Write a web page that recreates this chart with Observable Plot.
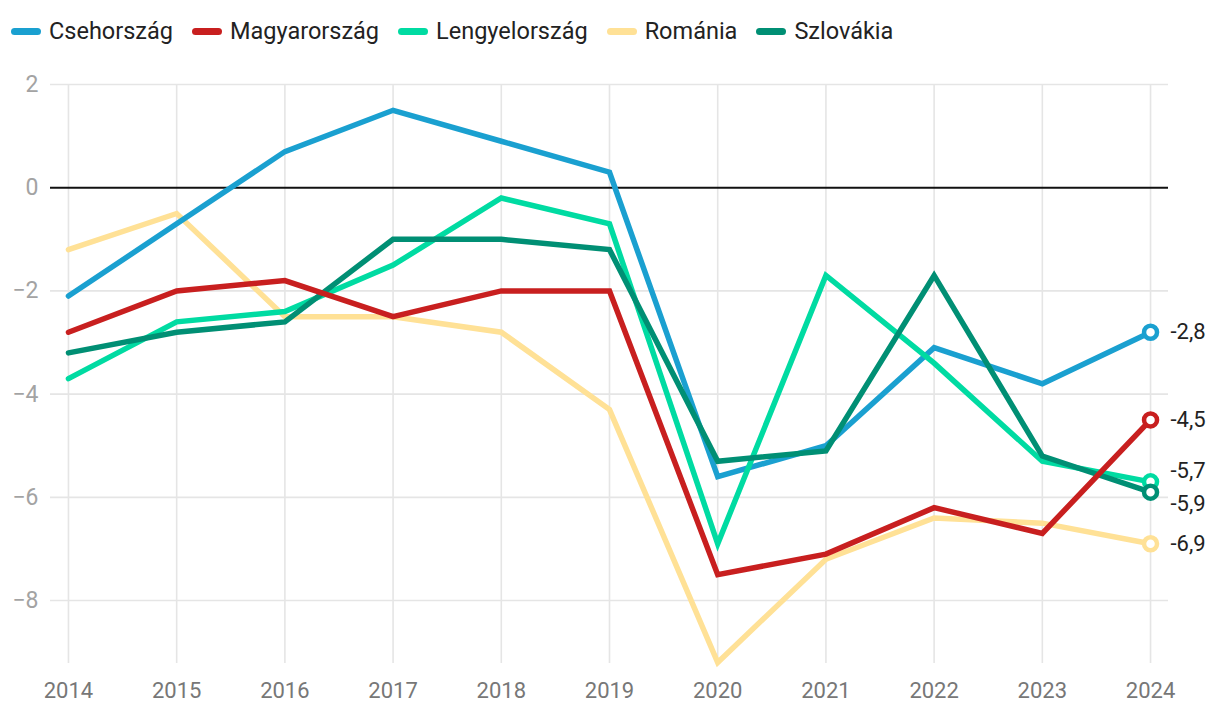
<!DOCTYPE html>
<html><head><meta charset="utf-8">
<script src="https://cdn.jsdelivr.net/npm/d3@7"></script>
<script src="https://cdn.jsdelivr.net/npm/@observablehq/plot@0.6"></script>
<style>
body{margin:0;background:#fff;font-family:Roboto,sans-serif;}
#legend{height:60px;display:flex;align-items:center;padding-left:11px;font-size:23.5px;color:#222;box-sizing:border-box;padding-top:2px;}
.item{display:flex;align-items:center;margin-right:19px;}
.sw{width:30px;height:7px;border-radius:4px;margin-right:8px;}
#chart svg{display:block;}
</style></head><body>
<div id="legend"></div><div id="chart"></div>
<script>
const years = [2014,2015,2016,2017,2018,2019,2020,2021,2022,2023,2024];
const countries = ["Csehország","Magyarország","Lengyelország","Románia","Szlovákia"];
const colors = ["#1aa0d0","#c81f1f","#00dba2","#ffe196","#008f74"];
const csehorszag    = [-2.1,-0.7, 0.7, 1.5, 0.9, 0.3,-5.6,-5.0,-3.1,-3.8,-2.8];
const magyarorszag  = [-2.8,-2.0,-1.8,-2.5,-2.0,-2.0,-7.5,-7.1,-6.2,-6.7,-4.5];
const lengyelorszag = [-3.7,-2.6,-2.4,-1.5,-0.2,-0.7,-6.9,-1.7,-3.4,-5.3,-5.7];
const romania       = [-1.2,-0.5,-2.5,-2.5,-2.8,-4.3,-9.2,-7.2,-6.4,-6.5,-6.9];
const szlovakia     = [-3.2,-2.8,-2.6,-1.0,-1.0,-1.2,-5.3,-5.1,-1.7,-5.2,-5.9];
const yTicks = [-8,-6,-4,-2,0,2];

const seriesValues = {"Csehország":csehorszag,"Magyarország":magyarorszag,"Lengyelország":lengyelorszag,"Románia":romania,"Szlovákia":szlovakia};
const drawOrder = ["Románia","Csehország","Lengyelország","Szlovákia","Magyarország"];
const data = drawOrder.flatMap(c => years.map((y,i) => ({country:c, year:y, value:seriesValues[c][i]})));

// end labels with simple dodge (data units)
const last = countries.map(c => ({country:c, year:years[years.length-1], value:seriesValues[c][years.length-1]}));
const sorted = [...last].sort((a,b)=>b.value-a.value);
const gap = 0.64;
sorted.forEach(d => d.ly = d.value);
for (let iter=0; iter<50; iter++){
  for (let i=0;i<sorted.length-1;i++){
    const a=sorted[i], b=sorted[i+1];
    const overlap = gap - (a.ly - b.ly);
    if (overlap>0){ a.ly += overlap/2; b.ly -= overlap/2; }
  }
}
const fmt = v => String(v.toFixed(1)).replace(".", ",");
const yFmt = d => d < 0 ? "\u2212" + Math.abs(d) : String(d);

// legend
const leg = document.getElementById("legend");
countries.forEach((c,i)=>{
  const it=document.createElement("div"); it.className="item";
  const sw=document.createElement("div"); sw.className="sw"; sw.style.background=colors[i];
  const t=document.createElement("span"); t.textContent=c;
  it.appendChild(sw); it.appendChild(t); leg.appendChild(it);
});

const chart = Plot.plot({
  width:1220, height:654,
  marginLeft:50, marginRight:52, marginTop:24, marginBottom:51,
  style:{fontFamily:"Roboto, sans-serif", fontSize:"22px", background:"white", overflow:"visible"},
  x:{domain:[2013.834,2024.166]},
  y:{domain:[-9.22,2]},
  color:{domain:countries, range:colors},
  marks:[
    Plot.gridY(yTicks.filter(d=>d!==0),{stroke:"#e5e5e5",strokeOpacity:1,strokeWidth:1.6}),
    Plot.gridX(years,{stroke:"#e5e5e5",strokeOpacity:1,strokeWidth:1.6}),
    Plot.ruleY([0],{stroke:"#111",strokeWidth:2}),
    Plot.axisX(years,{tickSize:0,tickPadding:19,fill:"#777",fontSize:22,tickFormat:d=>String(d),label:null}),
    Plot.axisY(yTicks,{tickSize:0,tickPadding:12,fill:"#a3a3a3",fontSize:23,tickFormat:yFmt,label:null}),
    Plot.line(data,{x:"year",y:"value",z:"country",stroke:"country",strokeWidth:5.5,strokeLinejoin:"miter",strokeMiterlimit:3}),
    Plot.dot(last,{x:"year",y:"value",stroke:"country",fill:"white",r:6.5,strokeWidth:4.5}),
    Plot.text(last,{x:"year",y:"ly",text:d=>fmt(d.value),dx:20,textAnchor:"start",fill:"#222",fontSize:22})
  ]
});
document.getElementById("chart").appendChild(chart);
</script>
</body></html>
